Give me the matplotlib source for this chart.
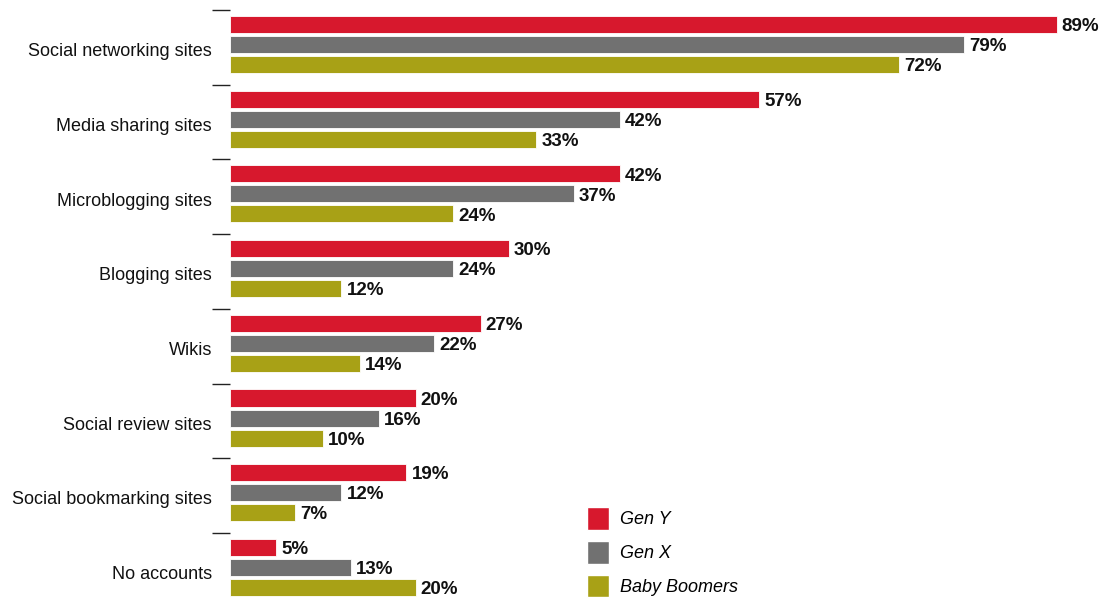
import matplotlib
matplotlib.use("Agg")
import matplotlib.pyplot as plt
from matplotlib.patches import Patch

plt.rcParams['font.family'] = ['Liberation Sans', 'DejaVu Sans']

categories = ["Social networking sites", "Media sharing sites", "Microblogging sites",
              "Blogging sites", "Wikis", "Social review sites",
              "Social bookmarking sites", "No accounts"]
series_names = ["Gen Y", "Gen X", "Baby Boomers"]
gen_y = [89, 57, 42, 30, 27, 20, 19, 5]
gen_x = [79, 42, 37, 24, 22, 16, 12, 13]
boomers = [72, 33, 24, 12, 14, 10, 7, 20]
colors = ["#D7182D", "#717171", "#A8A116"]

W, H = 1106, 605
fig = plt.figure(figsize=(W / 100, H / 100), dpi=100)
ax = fig.add_axes([230 / W, 0, 873 / W, 1])

offsets = [-0.268, 0.0, 0.268]
bar_h = 0.228
for vals, off, col, name in zip([gen_y, gen_x, boomers], offsets, colors, series_names):
    ys = [i + off for i in range(len(categories))]
    ax.barh(ys, vals, height=bar_h, color=col, edgecolor="white",
            linewidth=0.6, label=name)
    for y, v in zip(ys, vals):
        ax.text(v + 0.55, y + 0.03, f"{v}%", va="center", ha="left",
                fontsize=13.5, fontweight="bold", color="#111111")

ax.set_xlim(0, 94)
ax.set_ylim(7.503, -0.596)
# category labels sit just below the middle bar of each group
ax.set_yticks([i + 0.07 for i in range(len(categories))])
ax.set_yticklabels(categories, fontsize=13.0, color="#111111")
ax.tick_params(axis="y", which="major", length=0, pad=13)
ax.set_yticks([i - 0.462 for i in range(len(categories))], minor=True)
ax.tick_params(axis="y", which="minor", length=13, width=1.0, color="#222222")
ax.set_xticks([])
for s in ax.spines.values():
    s.set_visible(False)

handles = [Patch(facecolor=c, edgecolor="white", label=n) for c, n in zip(colors, series_names)]
fig.legend(handles=handles, loc="upper left", bbox_to_anchor=(571 / W, 1 - 491 / H),
           frameon=False, prop={"style": "italic", "size": 13},
           handlelength=1.2, handleheight=1.55, labelspacing=0.62, handletextpad=0.6)

fig.savefig("out.png", dpi=100)
